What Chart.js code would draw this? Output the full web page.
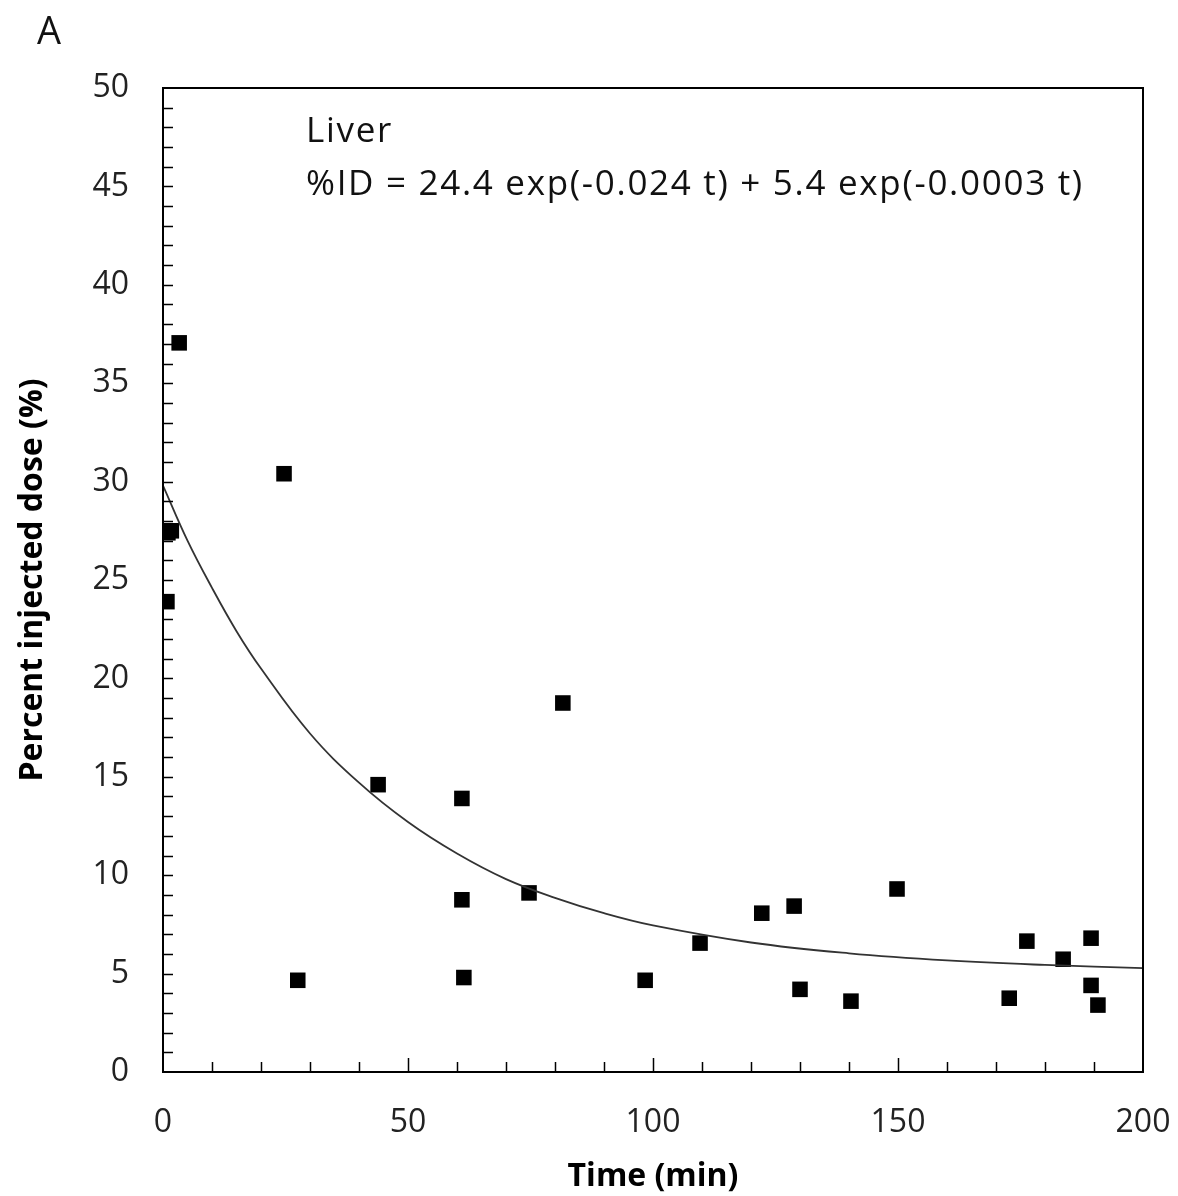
<!DOCTYPE html>
<html>
<head>
<meta charset="utf-8">
<script src="https://cdn.jsdelivr.net/npm/chart.js@4/dist/chart.umd.min.js"></script>
<style>
  html, body { margin: 0; padding: 0; background: #fff; }
  #wrap { width: 1178px; height: 1196px; }
</style>
</head>
<body>
<div id="wrap"><canvas id="liverChart" width="1178" height="1196"></canvas></div>
<script>
// datos medidos (tiempo en min, %ID)
const tiempos = [3.3, 1.0, 1.7, 0.8, 24.7, 27.5, 43.9, 61.0, 61.0, 61.4, 74.7, 81.6, 98.4, 109.6, 122.2, 128.8, 130.0, 140.4, 149.8, 172.7, 176.3, 183.7, 189.4, 189.4, 190.8];
const dosis = [37.05, 27.4, 27.5, 23.9, 30.4, 4.66, 14.6, 13.9, 8.75, 4.8, 9.1, 18.75, 4.66, 6.55, 8.07, 8.43, 4.2, 3.6, 9.3, 3.75, 6.65, 5.73, 6.8, 4.4, 3.4];

// curva de ajuste
const curvaT = [0, 5, 10, 15, 20, 30, 40, 50, 60, 70, 80, 90, 100, 120, 140, 160, 180, 200];
const curvaV = [29.8, 27.0, 24.6, 22.4, 20.5, 17.2, 14.7, 12.7, 11.1, 9.8, 8.85, 8.07, 7.45, 6.58, 6.03, 5.67, 5.44, 5.28];

const yMinor = [];
for (let v = 1; v < 50; v++) yMinor.push(v);
const xMinor = [];
for (let t = 10; t < 200; t += 10) xMinor.push(t);

const FUENTE = "'Open Sans', sans-serif";

// ticks hacia adentro + marco + textos
const marcoPlugin = {
  id: 'marco',
  afterDraw(chart) {
    const ctx = chart.ctx;
    const a = chart.chartArea;
    const xs = chart.scales.x, ys = chart.scales.y;
    ctx.save();
    ctx.strokeStyle = '#000';
    ctx.lineWidth = 1.5;
    ctx.beginPath();
    yMinor.forEach(v => {
      const py = Math.round(ys.getPixelForValue(v)) + 0.5;
      ctx.moveTo(a.left, py);
      ctx.lineTo(a.left + 10, py);
    });
    xMinor.forEach(t => {
      const px = Math.round(xs.getPixelForValue(t)) + 0.5;
      const len = (t % 50 === 0) ? 14 : 10;
      ctx.moveTo(px, a.bottom);
      ctx.lineTo(px, a.bottom - len);
    });
    ctx.stroke();
    ctx.lineWidth = 2;
    ctx.strokeRect(a.left, a.top, a.right - a.left, a.bottom - a.top);

    ctx.fillStyle = '#111';
    ctx.textBaseline = 'middle';
    ctx.font = '38px ' + FUENTE;
    ctx.fillText('A', 37, 33);
    ctx.font = '35px ' + FUENTE;
    ctx.letterSpacing = '1.7px';
    ctx.fillText('Liver', 306, 132);
    ctx.fillText('%ID = 24.4 exp(-0.024 t) + 5.4 exp(-0.0003 t)', 306, 185);
    ctx.restore();
  }
};

new Chart(document.getElementById('liverChart').getContext('2d'), {
  type: 'scatter',
  data: {
    datasets: [
      {
        label: 'Ajuste',
        type: 'line',
        data: curvaT.map((t, i) => ({ x: t, y: curvaV[i] })),
        borderColor: '#333',
        borderWidth: 1.8,
        pointRadius: 0,
        tension: 0.4,
        fill: false,
      },
      {
        label: 'Liver',
        data: tiempos.map((t, i) => ({ x: t, y: dosis[i] })),
        pointStyle: 'rect',
        pointRadius: 11,
        pointHoverRadius: 11,
        backgroundColor: '#000',
        borderColor: '#000',
        borderWidth: 0,
      },
    ],
  },
  plugins: [marcoPlugin],
  options: {
    responsive: false,
    animation: false,
    layout: { padding: { left: 0, right: 35, top: 88, bottom: 0 } },
    plugins: { legend: { display: false }, tooltip: { enabled: false } },
    scales: {
      x: {
        type: 'linear',
        min: 0, max: 200,
        grid: { display: false, drawTicks: false },
        border: { display: false },
        ticks: { stepSize: 50, padding: 32, color: '#222', font: { family: FUENTE, size: 32 } },
        title: { display: true, text: 'Time (min)', color: '#000', padding: { top: 0, bottom: 0 }, font: { family: FUENTE, size: 32, weight: 'bold' } },
        afterFit(scale) {
          scale.height = 124;
          scale.paddingLeft = 0;
          scale.paddingRight = 0;
        },
      },
      y: {
        type: 'linear',
        min: 0, max: 50,
        grid: { display: false, drawTicks: false },
        border: { display: false },
        ticks: { stepSize: 5, padding: 34, color: '#222', font: { family: FUENTE, size: 32 } },
        title: { display: true, text: 'Percent injected dose (%)', color: '#000', padding: { top: 14, bottom: 0 }, font: { family: FUENTE, size: 32, weight: 'bold' } },
        afterFit(scale) { scale.width = 163; },
      },
    },
  },
});
</script>
</body>
</html>
